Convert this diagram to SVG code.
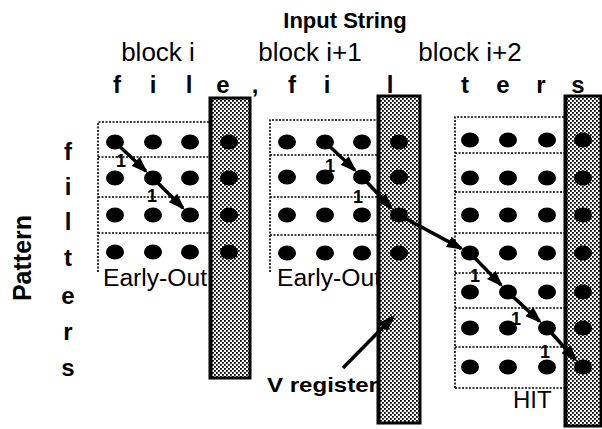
<svg xmlns="http://www.w3.org/2000/svg" width="602" height="429" viewBox="0 0 602 429">
<defs>
<pattern id="chk" width="4" height="4" patternUnits="userSpaceOnUse">
<rect width="4" height="4" fill="#fff"/>
<rect width="1.8" height="1.8" fill="#000"/>
<rect x="2" y="2" width="1.8" height="1.8" fill="#000"/>
</pattern>
<marker id="ah" markerUnits="userSpaceOnUse" markerWidth="17" markerHeight="12" refX="14" refY="6" orient="auto">
<path d="M0,0 L17,6 L0,12 Z" fill="#000"/>
</marker>
</defs>
<style>
.t{font-family:"Liberation Sans",Arial,sans-serif;fill:#000}
.b{font-weight:bold}
.bar{fill:url(#chk);stroke:#000;stroke-width:3}
.dash{fill:none;stroke:#000;stroke-width:1.6;stroke-dasharray:2,1.5}
.dot{fill:#000}
.arr{stroke:#000;stroke-width:3.5;fill:none;marker-end:url(#ah)}
.one{font-family:"Liberation Sans",Arial,sans-serif;font-size:18px;font-weight:bold;fill:#000}
</style>
<rect width="602" height="429" fill="#fff"/>

<g id="titles">
<text class="t b" x="345" y="28" font-size="22" text-anchor="middle">Input String</text>
<text class="t" x="158" y="61" font-size="26" text-anchor="middle">block i</text>
<text class="t" x="310" y="61" font-size="26" text-anchor="middle">block i+1</text>
<text class="t" x="470" y="61" font-size="26" text-anchor="middle">block i+2</text>
</g>

<g id="input-letters" class="t b" font-size="24" text-anchor="middle">
<text x="117" y="93">f</text>
<text x="153" y="93">i</text>
<text x="189" y="93">l</text>
<text x="223" y="93">e</text>
<text x="255" y="93">,</text>
<text x="292" y="93">f</text>
<text x="327" y="93">i</text>
<text x="390" y="93">l</text>
<text x="465" y="93">t</text>
<text x="503" y="93">e</text>
<text x="541" y="93">r</text>
<text x="578" y="93">s</text>
</g>

<g id="pattern-label">
<text class="t b" font-size="25" text-anchor="middle" transform="translate(31,258) rotate(-90)">Pattern</text>
<g class="t b" font-size="24" text-anchor="middle">
<text x="68" y="160">f</text>
<text x="68" y="195">i</text>
<text x="68" y="230">l</text>
<text x="68" y="266">t</text>
<text x="68" y="304">e</text>
<text x="68" y="340">r</text>
<text x="68" y="376">s</text>
</g>
</g>

<g id="block-i">
<path class="dash" d="M98,272 V122 H210 M98,157 H210 M98,197 H210 M98,233 H210"/>
<rect class="bar" x="210" y="98" width="40" height="280"/>
<line x1="211" y1="98" x2="211" y2="378" stroke="#000" stroke-width="3"/>
<g class="dot">
<ellipse cx="115" cy="142" rx="9" ry="7.5"/><ellipse cx="153" cy="142" rx="9" ry="7.5"/><ellipse cx="190" cy="142" rx="9" ry="7.5"/><ellipse cx="229" cy="142" rx="9" ry="7.5"/>
<ellipse cx="115" cy="178" rx="9" ry="7.5"/><ellipse cx="153" cy="178" rx="9" ry="7.5"/><ellipse cx="190" cy="178" rx="9" ry="7.5"/><ellipse cx="229" cy="178" rx="9" ry="7.5"/>
<ellipse cx="115" cy="215" rx="9" ry="7.5"/><ellipse cx="153" cy="215" rx="9" ry="7.5"/><ellipse cx="190" cy="215" rx="9" ry="7.5"/><ellipse cx="229" cy="215" rx="9" ry="7.5"/>
<ellipse cx="115" cy="252" rx="9" ry="7.5"/><ellipse cx="153" cy="252" rx="9" ry="7.5"/><ellipse cx="190" cy="252" rx="9" ry="7.5"/><ellipse cx="229" cy="252" rx="9" ry="7.5"/>
</g>
<text class="t" x="103" y="286" font-size="23" textLength="104" lengthAdjust="spacingAndGlyphs">Early-Out</text>
</g>

<g id="block-i1">
<path class="dash" d="M270,272 V120 H378 M270,155 H378 M270,197 H378 M270,235 H378"/>
<rect class="bar" x="378" y="96" width="42" height="327"/>
<line x1="379" y1="96" x2="379" y2="423" stroke="#000" stroke-width="3"/>
<g class="dot">
<ellipse cx="287" cy="142" rx="9" ry="7.5"/><ellipse cx="325" cy="142" rx="9" ry="7.5"/><ellipse cx="362" cy="142" rx="9" ry="7.5"/><ellipse cx="399" cy="142" rx="9" ry="7.5"/>
<ellipse cx="287" cy="177" rx="9" ry="7.5"/><ellipse cx="325" cy="177" rx="9" ry="7.5"/><ellipse cx="362" cy="177" rx="9" ry="7.5"/><ellipse cx="399" cy="177" rx="9" ry="7.5"/>
<ellipse cx="287" cy="215" rx="9" ry="7.5"/><ellipse cx="325" cy="215" rx="9" ry="7.5"/><ellipse cx="362" cy="215" rx="9" ry="7.5"/><ellipse cx="399" cy="215" rx="9" ry="7.5"/>
<ellipse cx="287" cy="253" rx="9" ry="7.5"/><ellipse cx="325" cy="253" rx="9" ry="7.5"/><ellipse cx="362" cy="253" rx="9" ry="7.5"/><ellipse cx="399" cy="253" rx="9" ry="7.5"/>
</g>
<text class="t" x="277" y="286" font-size="23" textLength="104" lengthAdjust="spacingAndGlyphs">Early-Out</text>
</g>

<g id="block-i2">
<path class="dash" d="M455,388 V117 H565 M455,153 H565 M455,192 H565 M455,233 H565 M455,273 H565 M455,308 H565 M455,347 H565 M455,388 H565"/>
<rect class="bar" x="565" y="96" width="36" height="330"/>
<line x1="566" y1="96" x2="566" y2="426" stroke="#000" stroke-width="3"/>
<g class="dot">
<ellipse cx="470" cy="140" rx="9" ry="7.5"/><ellipse cx="508" cy="140" rx="9" ry="7.5"/><ellipse cx="547" cy="140" rx="9" ry="7.5"/><ellipse cx="583" cy="140" rx="9" ry="7.5"/>
<ellipse cx="470" cy="178" rx="9" ry="7.5"/><ellipse cx="508" cy="178" rx="9" ry="7.5"/><ellipse cx="547" cy="178" rx="9" ry="7.5"/><ellipse cx="583" cy="178" rx="9" ry="7.5"/>
<ellipse cx="470" cy="215" rx="9" ry="7.5"/><ellipse cx="508" cy="215" rx="9" ry="7.5"/><ellipse cx="547" cy="215" rx="9" ry="7.5"/><ellipse cx="583" cy="215" rx="9" ry="7.5"/>
<ellipse cx="470" cy="253" rx="9" ry="7.5"/><ellipse cx="508" cy="253" rx="9" ry="7.5"/><ellipse cx="547" cy="253" rx="9" ry="7.5"/><ellipse cx="583" cy="253" rx="9" ry="7.5"/>
<ellipse cx="470" cy="292" rx="9" ry="7.5"/><ellipse cx="508" cy="292" rx="9" ry="7.5"/><ellipse cx="547" cy="292" rx="9" ry="7.5"/><ellipse cx="583" cy="292" rx="9" ry="7.5"/>
<ellipse cx="470" cy="328" rx="9" ry="7.5"/><ellipse cx="508" cy="328" rx="9" ry="7.5"/><ellipse cx="547" cy="328" rx="9" ry="7.5"/><ellipse cx="583" cy="328" rx="9" ry="7.5"/>
<ellipse cx="470" cy="367" rx="9" ry="7.5"/><ellipse cx="508" cy="367" rx="9" ry="7.5"/><ellipse cx="547" cy="367" rx="9" ry="7.5"/><ellipse cx="583" cy="367" rx="9" ry="7.5"/>
</g>
<text class="t" x="513" y="408" font-size="24">HIT</text>
</g>

<g id="connectors">
<line class="arr" x1="115" y1="142" x2="145.8" y2="171.1"/>
<line class="arr" x1="153" y1="178" x2="182.9" y2="207.9"/>
<line class="arr" x1="325" y1="142" x2="354.8" y2="170.1"/>
<line class="arr" x1="362" y1="177" x2="391.1" y2="207.7"/>
<line class="arr" x1="399" y1="215" x2="461.1" y2="248.4"/>
<line class="arr" x1="470" y1="253" x2="501" y2="284.9"/>
<line class="arr" x1="508" y1="292" x2="539.6" y2="321.2"/>
<line class="arr" x1="547" y1="328" x2="575.3" y2="359.5"/>
<line class="arr" x1="343" y1="368" x2="393" y2="317"/>
</g>

<g id="labels">
<text class="one" x="121" y="167" text-anchor="middle">1</text>
<text class="one" x="152" y="202" text-anchor="middle">1</text>
<text class="one" x="330" y="172" text-anchor="middle">1</text>
<text class="one" x="358" y="203" text-anchor="middle">1</text>
<text class="one" x="475" y="282" text-anchor="middle">1</text>
<text class="one" x="516" y="325" text-anchor="middle">1</text>
<text class="one" x="545" y="358" text-anchor="middle">1</text>
<text class="t b" x="267" y="392" font-size="21" textLength="111" lengthAdjust="spacingAndGlyphs">V register</text>
</g>
</svg>
